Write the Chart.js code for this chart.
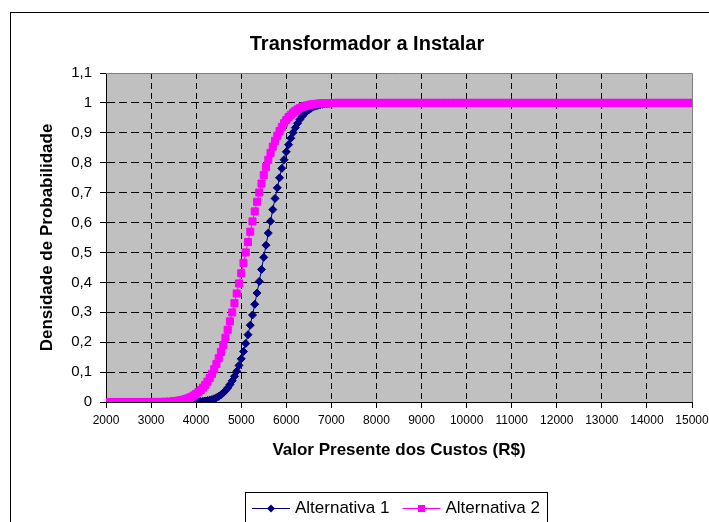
<!DOCTYPE html>
<html>
<head>
<meta charset="UTF-8" />
<title>Transformador a Instalar</title>
<script src="https://cdn.jsdelivr.net/npm/chart.js"></script>
<style>
  body { margin: 0; background: #fff; }
  #wrap { width: 709px; height: 522px; }
</style>
</head>
<body>
<div id="wrap"><canvas id="cdfChart" width="709" height="522"></canvas></div>
<script>
// Valor presente dos custos (R$)
const custos = [
  2000, 2100, 2200, 2300, 2400, 2500, 2600, 2700, 2800, 2900,
  3000, 3100, 3200, 3300, 3400,
  3500, 3550, 3600, 3650, 3700, 3750, 3800, 3850, 3900, 3950,
  4000, 4050, 4100, 4150, 4200, 4250, 4300, 4350, 4400, 4450,
  4500, 4550, 4600, 4650, 4700, 4750, 4800, 4850, 4900, 4950,
  5000, 5050, 5100, 5150, 5200, 5250, 5300, 5350, 5400, 5450,
  5500, 5550, 5600, 5650, 5700, 5750, 5800, 5850, 5900, 5950,
  6000, 6050, 6100, 6150, 6200, 6250, 6300, 6350, 6400, 6450,
  6500, 6550, 6600, 6650, 6700, 6750, 6800, 6850, 6900, 6950,
  7000,
  7100, 7200, 7300, 7400, 7500, 7600, 7700, 7800, 7900, 8000,
  8100, 8200, 8300, 8400, 8500, 8600, 8700, 8800, 8900, 9000,
  9100, 9200, 9300, 9400, 9500, 9600, 9700, 9800, 9900, 10000,
  10100, 10200, 10300, 10400, 10500, 10600, 10700, 10800, 10900, 11000,
  11100, 11200, 11300, 11400, 11500, 11600, 11700, 11800, 11900, 12000,
  12100, 12200, 12300, 12400, 12500, 12600, 12700, 12800, 12900, 13000,
  13100, 13200, 13300, 13400, 13500, 13600, 13700, 13800, 13900, 14000,
  14100, 14200, 14300, 14400, 14500, 14600, 14700, 14800, 14900, 15000
];

const alternativa1 = [
  0, 0, 0, 0, 0, 0, 0, 0, 0, 0,
  0, 0, 0, 0, 0,
  0, 0, 0, 0.0001, 0.0001, 0.0002, 0.0002, 0.0003, 0.0005, 0.0007,
  0.0010, 0.0014, 0.0019, 0.0026, 0.0035, 0.0048, 0.0064, 0.0085, 0.0111, 0.0145,
  0.0187, 0.0239, 0.0302, 0.0379, 0.0471, 0.0581, 0.0709, 0.0858, 0.1029, 0.1224,
  0.1443, 0.1688, 0.1957, 0.2251, 0.2569, 0.2908, 0.3267, 0.3643, 0.4032, 0.4431,
  0.4837, 0.5243, 0.5648, 0.6045, 0.6432, 0.6805, 0.7161, 0.7496, 0.7811, 0.8100,
  0.8364, 0.8603, 0.8817, 0.9007, 0.9174, 0.9319, 0.9443, 0.9549, 0.9637, 0.9711,
  0.9772, 0.9822, 0.9862, 0.9894, 0.9920, 0.9940, 0.9955, 0.9967, 0.9976, 0.9982,
  0.9987,
  1, 1, 1, 1, 1, 1, 1, 1, 1, 1,
  1, 1, 1, 1, 1, 1, 1, 1, 1, 1,
  1, 1, 1, 1, 1, 1, 1, 1, 1, 1,
  1, 1, 1, 1, 1, 1, 1, 1, 1, 1,
  1, 1, 1, 1, 1, 1, 1, 1, 1, 1,
  1, 1, 1, 1, 1, 1, 1, 1, 1, 1,
  1, 1, 1, 1, 1, 1, 1, 1, 1, 1,
  1, 1, 1, 1, 1, 1, 1, 1, 1, 1
];

const alternativa2 = [
  0, 0, 0, 0, 0, 0, 0, 0, 0, 0,
  0.0001, 0.0002, 0.0004, 0.0008, 0.0014,
  0.0025, 0.0033, 0.0042, 0.0055, 0.0070, 0.0089, 0.0113, 0.0142, 0.0176, 0.0218,
  0.0268, 0.0327, 0.0397, 0.0478, 0.0572, 0.0680, 0.0802, 0.0941, 0.1097, 0.1271,
  0.1462, 0.1673, 0.1902, 0.2150, 0.2414, 0.2696, 0.2994, 0.3304, 0.3628, 0.3963,
  0.4305, 0.4651, 0.5000, 0.5349, 0.5695, 0.6037, 0.6372, 0.6696, 0.7006, 0.7304,
  0.7586, 0.7850, 0.8098, 0.8327, 0.8538, 0.8729, 0.8903, 0.9059, 0.9198, 0.9320,
  0.9428, 0.9522, 0.9603, 0.9673, 0.9732, 0.9782, 0.9824, 0.9858, 0.9887, 0.9911,
  0.9930, 0.9945, 0.9958, 0.9967, 0.9975, 0.9981, 0.9986, 0.9989, 0.9992, 0.9994,
  0.9996,
  1, 1, 1, 1, 1, 1, 1, 1, 1, 1,
  1, 1, 1, 1, 1, 1, 1, 1, 1, 1,
  1, 1, 1, 1, 1, 1, 1, 1, 1, 1,
  1, 1, 1, 1, 1, 1, 1, 1, 1, 1,
  1, 1, 1, 1, 1, 1, 1, 1, 1, 1,
  1, 1, 1, 1, 1, 1, 1, 1, 1, 1,
  1, 1, 1, 1, 1, 1, 1, 1, 1, 1,
  1, 1, 1, 1, 1, 1, 1, 1, 1, 1
];

const xTicks = [2000, 3000, 4000, 5000, 6000, 7000, 8000, 9000, 10000, 11000, 12000, 13000, 14000, 15000];
const xTickLabels = ["2000", "3000", "4000", "5000", "6000", "7000", "8000", "9000", "10000", "11000", "12000", "13000", "14000", "15000"];
const yTicks = [0, 0.1, 0.2, 0.3, 0.4, 0.5, 0.6, 0.7, 0.8, 0.9, 1, 1.1];
const yTickLabels = ["0", "0,1", "0,2", "0,3", "0,4", "0,5", "0,6", "0,7", "0,8", "0,9", "1", "1,1"];

const seriesNames = ["Alternativa 1", "Alternativa 2"];
const NAVY = "#000080";
const MAGENTA = "#FF00FF";
const FONT = "'Liberation Sans', Arial, sans-serif";

const toPoints = ys => custos.map((x, i) => ({ x, y: ys[i] }));

// fundo cinza, moldura, título e legenda no estilo do Excel
const excelLook = {
  id: "excelLook",
  beforeDraw(chart) {
    const { ctx, chartArea: a } = chart;
    ctx.save();
    ctx.fillStyle = "#fff";
    ctx.fillRect(0, 0, chart.width, chart.height);
    ctx.strokeStyle = "#000";
    ctx.lineWidth = 1;
    ctx.strokeRect(10.5, 12.5, chart.width + 20, chart.height + 20);
    ctx.fillStyle = "#C0C0C0";
    ctx.fillRect(a.left, a.top, a.right - a.left, a.bottom - a.top);
    ctx.restore();
  },
  beforeDatasetsDraw(chart) {
    const { ctx, chartArea: a } = chart;
    ctx.save();
    ctx.strokeStyle = "#808080";
    ctx.lineWidth = 1;
    ctx.beginPath();
    ctx.moveTo(a.left, a.top + 0.5);
    ctx.lineTo(a.right + 0.5, a.top + 0.5);
    ctx.lineTo(a.right + 0.5, a.bottom);
    ctx.stroke();
    ctx.restore();
  },
  afterDraw(chart) {
    const { ctx } = chart;
    ctx.save();
    ctx.fillStyle = "#000";
    ctx.font = "bold 20px " + FONT;
    ctx.textAlign = "center";
    ctx.textBaseline = "middle";
    ctx.fillText("Transformador a Instalar", 367, 44);

    // legenda
    ctx.font = "17px " + FONT;
    ctx.textAlign = "left";
    ctx.lineWidth = 1;
    const y = 508.5;
    let x = 252;
    chart.data.datasets.forEach((ds, i) => {
      ctx.strokeStyle = ds.borderColor;
      ctx.beginPath();
      ctx.moveTo(x, y);
      ctx.lineTo(x + 38, y);
      ctx.stroke();
      ctx.fillStyle = ds.borderColor;
      const cx = x + 19;
      if (ds.pointStyle === "rectRot") {
        ctx.beginPath();
        ctx.moveTo(cx, y - 4);
        ctx.lineTo(cx + 4, y);
        ctx.lineTo(cx, y + 4);
        ctx.lineTo(cx - 4, y);
        ctx.closePath();
        ctx.fill();
      } else {
        ctx.fillRect(cx - 3.5, y - 3.5, 7, 7);
      }
      ctx.fillStyle = "#000";
      ctx.fillText(ds.label, x + 43, y);
      x += 43 + ctx.measureText(ds.label).width + 13;
    });
    ctx.strokeStyle = "#000";
    ctx.strokeRect(245.5, 492.5, Math.round(x - 13 + 7 - 245), 60);
    ctx.restore();
  }
};

new Chart(document.getElementById("cdfChart"), {
  type: "line",
  data: {
    datasets: [
      {
        label: seriesNames[0],
        data: toPoints(alternativa1),
        borderColor: NAVY,
        backgroundColor: NAVY,
        borderWidth: 1,
        pointStyle: "rectRot",
        pointRadius: 4,
        pointBorderWidth: 1,
        order: 1
      },
      {
        label: seriesNames[1],
        data: toPoints(alternativa2),
        borderColor: MAGENTA,
        backgroundColor: MAGENTA,
        borderWidth: 1,
        pointStyle: "rect",
        pointRadius: 5,
        pointBorderWidth: 1,
        order: 0
      }
    ]
  },
  options: {
    responsive: false,
    animation: false,
    layout: { padding: { top: 73, right: 17, left: 0, bottom: 0 } },
    plugins: {
      legend: { display: false },
      title: { display: false },
      tooltip: { enabled: false }
    },
    scales: {
      x: {
        type: "linear",
        min: 2000,
        max: 15000,
        afterBuildTicks: s => { s.ticks = xTicks.map(v => ({ value: v })); },
        afterFit: s => { s.height = 120; s.paddingLeft = 0; s.paddingRight = 0; },
        ticks: {
          color: "#000",
          font: { family: FONT, size: 12 },
          padding: 5,
          maxRotation: 0,
          callback: (v, i) => xTickLabels[i]
        },
        grid: {
          color: c => (c.tick && c.tick.value === 15000) ? "rgba(0,0,0,0)" : "#000",
          tickColor: "#000",
          tickLength: 6,
          lineWidth: 1
        },
        border: { display: true, color: "#000", width: 1, dash: [6, 4] },
        title: {
          display: true,
          text: "Valor Presente dos Custos (R$)",
          color: "#000",
          font: { family: FONT, size: 17, weight: "bold" },
          padding: { top: 0, bottom: 61 }
        }
      },
      y: {
        type: "linear",
        min: 0,
        max: 1.1,
        afterBuildTicks: s => { s.ticks = yTicks.map(v => ({ value: v })); },
        afterFit: s => { s.width = 106; },
        ticks: {
          color: "#000",
          font: { family: FONT, size: 15 },
          padding: 8,
          callback: (v, i) => yTickLabels[i]
        },
        grid: {
          color: c => (c.tick && c.tick.value === 1.1) ? "rgba(0,0,0,0)" : "#000",
          tickColor: "#000",
          tickLength: 6,
          lineWidth: 1
        },
        border: { display: true, color: "#000", width: 1, dash: [8, 4] },
        title: {
          display: true,
          text: "Densidade de Probabilidade",
          color: "#000",
          font: { family: FONT, size: 17, weight: "bold" },
          padding: { top: 37, bottom: 0 }
        }
      }
    }
  },
  plugins: [excelLook]
});
</script>
</body>
</html>
